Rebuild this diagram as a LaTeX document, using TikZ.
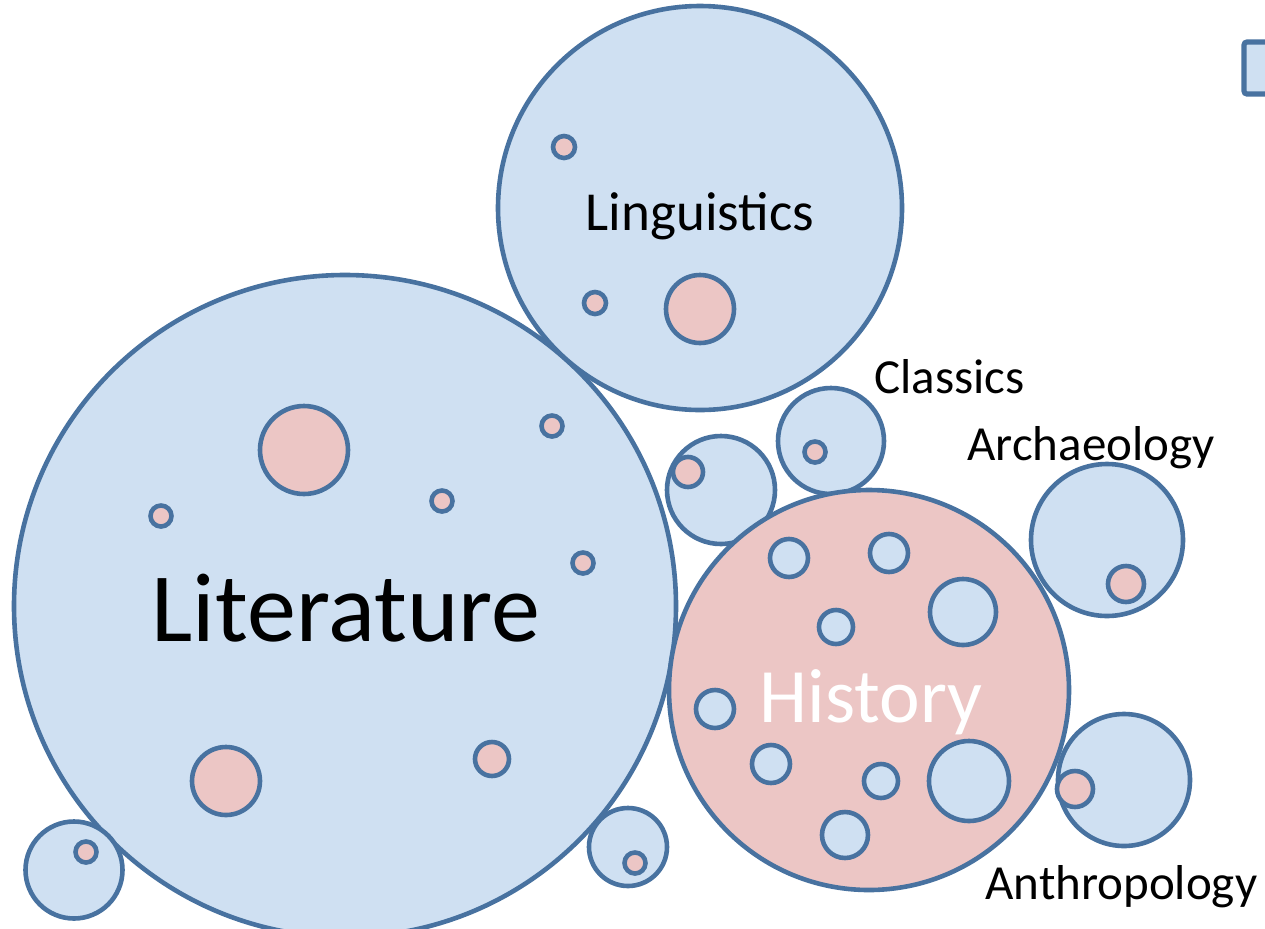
\documentclass[tikz,border=0pt]{standalone}
\usepackage{fontspec}
\setmainfont{Carlito}
\definecolor{bluefill}{RGB}{207,224,242}
\definecolor{pinkfill}{RGB}{236,198,197}
\definecolor{edgeblue}{RGB}{72,114,160}
\tikzset{
  bub/.style={circle, draw=edgeblue, line width=2.3pt, inner sep=0pt, minimum size=#1pt},
  bbub/.style={bub=#1, fill=bluefill},
  pbub/.style={bub=#1, fill=pinkfill},
  lbl/.style={inner sep=0pt, anchor=base west, font=\fontsize{24.5pt}{29pt}\selectfont},
}
\begin{document}
\begin{tikzpicture}[x=0.5pt, y=-0.5pt]
\useasboundingbox (0,0) rectangle (1265,928);
\node[draw=edgeblue, fill=bluefill, line width=2.6pt, rounded corners=1.5pt, minimum width=30pt, minimum height=26pt, inner sep=0pt] (key) at (1274,68) {};
\node[bbub=331] (Lit) at (345,606) {};
\node[bbub=202] (Lin) at (700,208) {};
\node[bbub=54] (B_0) at (721,490) {};
\node[bbub=53] (Cla) at (831,441) {};
\node[pbub=200] (His) at (869,690) {};
\node[bbub=76] (Arc) at (1107,540) {};
\node[bbub=66] (Ant) at (1124,780) {};
\node[bbub=48.5] (B_1) at (74,870) {};
\node[bbub=39] (B_2) at (628,847) {};
% small circles inside
\node[pbub=15] (B_0_1) at (688,472) {};
\node[pbub=10.5] (Cla_1) at (815,452) {};
\node[pbub=18] (Arc_1) at (1126,584) {};
\node[pbub=18] (Ant_1) at (1075,789) {};
\node[pbub=10.5] (B_1_1) at (86,852) {};
\node[pbub=10.5] (B_2_1) at (635,863) {};
\node[pbub=11] (Lin_1) at (564,147) {};
\node[pbub=11] (Lin_2) at (595,303) {};
\node[pbub=34] (Lin_3) at (700,309) {};
\node[pbub=44] (Lit_1) at (304,450) {};
\node[pbub=10.5] (Lit_2) at (552,426) {};
\node[pbub=10.5] (Lit_3) at (442,501) {};
\node[pbub=10.5] (Lit_4) at (161,516) {};
\node[pbub=10.5] (Lit_5) at (583,563) {};
\node[pbub=34] (Lit_6) at (226,781) {};
\node[pbub=17] (Lit_7) at (492,759) {};
\node[bbub=19] (His_1) at (789,558) {};
\node[bbub=19] (His_2) at (889,553) {};
\node[bbub=33] (His_3) at (963,612) {};
\node[bbub=17] (His_4) at (836,627) {};
\node[bbub=19] (His_5) at (715,709) {};
\node[bbub=19] (His_6) at (771,764) {};
\node[bbub=17] (His_7) at (881,781) {};
\node[bbub=40] (His_8) at (969,781) {};
\node[bbub=23] (His_9) at (845,835) {};
% labels
\node[inner sep=0pt, anchor=base, font=\fontsize{49pt}{55pt}\selectfont] (Lit_t) at (346,641) {Literature};
\node[inner sep=0pt, anchor=base, font=\fontsize{27.5pt}{32pt}\selectfont] (Lin_t) at (700,230) {Linguistics};
\node[inner sep=0pt, anchor=base, text=white, font=\fontsize{38.5pt}{44pt}\selectfont] (His_t) at (871,722) {History};
\node[lbl] (Cla_t) at (874,393) {Classics};
\node[lbl] (Arc_t) at (967,460) {Archaeology};
\node[lbl] (Ant_t) at (985,899) {Anthropology};
\end{tikzpicture}
\end{document}
